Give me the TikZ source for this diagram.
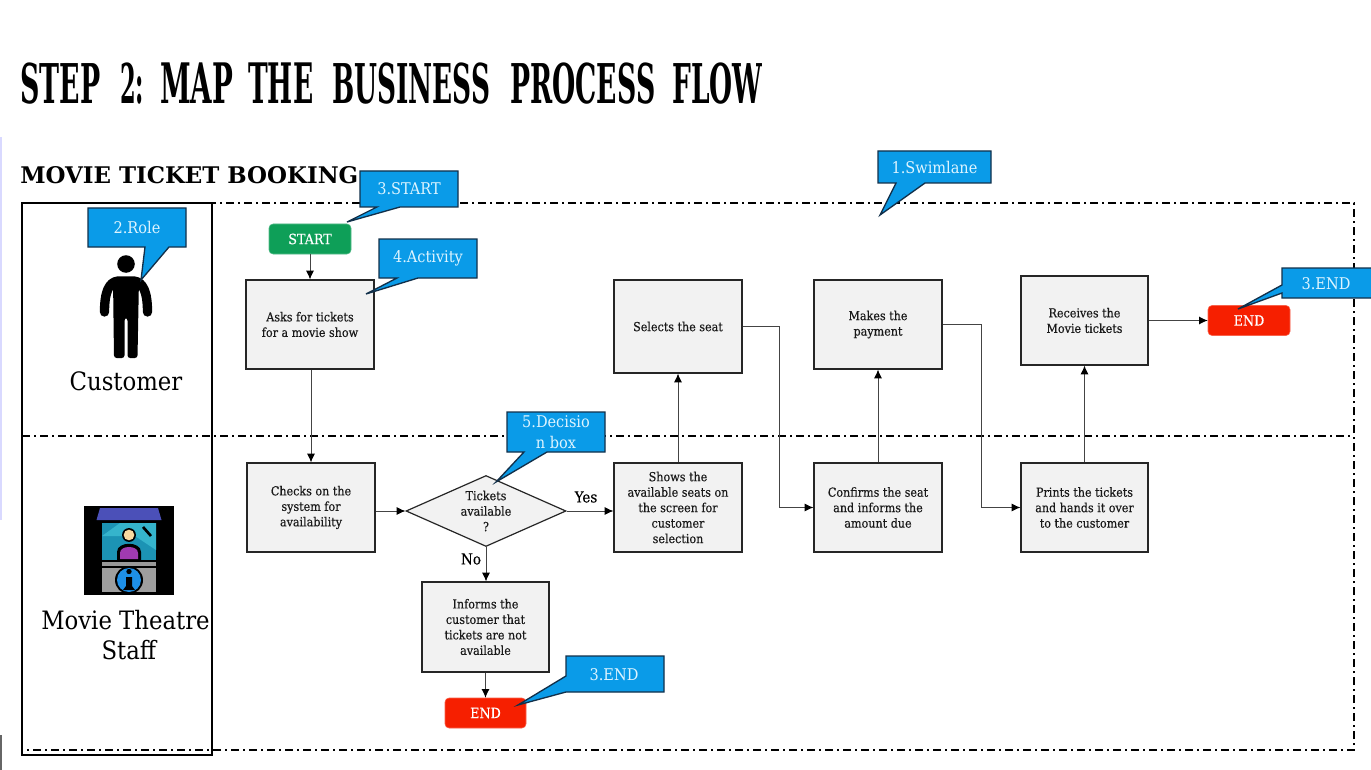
\documentclass[tikz,border=0pt]{standalone}
\usepackage{fontspec}
\setmainfont{DejaVu Serif Condensed}
\newfontfamily\titlefont{DejaVu Serif}
\newfontfamily\bodyfont{DejaVu Serif Condensed}[FakeBold=0.25]
\usetikzlibrary{shapes.geometric,arrows.meta,calc}
\definecolor{calloutblue}{HTML}{0A9BE8}
\definecolor{calloutedge}{HTML}{12304A}
\definecolor{calloutink}{HTML}{DDF4FF}
\definecolor{boxfill}{HTML}{F2F2F2}
\definecolor{startgreen}{HTML}{0E9F58}
\definecolor{endred}{HTML}{F61F00}
\definecolor{linegray}{HTML}{444444}
\definecolor{kioskroof}{HTML}{4B50B8}
\definecolor{kioskglass}{HTML}{1C93B4}
\definecolor{kioskglasslight}{HTML}{35B4CC}
\definecolor{kioskskin}{HTML}{F8D9A0}
\definecolor{kioskshirt}{HTML}{A03AB0}
\definecolor{kioskinfo}{HTML}{1E8FE6}
\newcommand{\tw}[2]{\resizebox{#1pt}{30.5pt}{\titlefont\bfseries #2}}
\tikzset{
  x=0.75pt,y=-0.75pt,
  boxsize/.style 2 args={minimum width=#1*0.75pt,minimum height=#2*0.75pt},
  stepbox/.style={draw=black!85,line width=0.9pt,fill=boxfill,inner sep=0pt,align=center,
    font=\bodyfont\fontsize{9.3}{11.6}\selectfont,text=black!90},
  decbox/.style={diamond,shape aspect=2.25,draw=black!85,line width=0.9pt,fill=boxfill,inner sep=0pt,align=center,
    font=\bodyfont\fontsize{9.3}{11.6}\selectfont,text=black!90},
  termstart/.style={rounded corners=3pt,fill=startgreen,draw=startgreen!70!white,line width=0.4pt,inner sep=0pt,text=white,
    font=\bodyfont\fontsize{10.6}{12}\selectfont},
  termend/.style={termstart,fill=endred,draw=endred!70!white},
  flow/.style={draw=linegray,line width=0.7pt,-{Latex[black,length=6.5pt,width=6pt]}},
  lane/.style={draw=black,line width=0.8pt,dash pattern=on 6pt off 3pt on 1.5pt off 3pt},
  calloutshape/.style={draw=calloutedge,fill=calloutblue,line width=1pt,line join=miter},
  callouttext/.style={text=calloutink,inner sep=0pt,align=center,font=\fontsize{12.1}{15.5}\selectfont},
  rolelabel/.style={inner sep=0pt,align=center,text=black,font=\fontsize{19}{22.5}\selectfont},
  branchlabel/.style={inner sep=0pt,text=black,font=\bodyfont\fontsize{11.3}{12}\selectfont},
}
\begin{document}
\begin{tikzpicture}
\useasboundingbox (0,0) rectangle (1371,770);
\fill[white] (0,0) rectangle (1371,770);
\fill[blue!15!white] (0,137) rectangle (2,520);
\fill[black!60] (0,735) rectangle (1.5,770);

% title
\node[anchor=base west,inner sep=0pt] (title) at (20,104)
  {\tw{60}{STEP}\hspace{15pt}\tw{18}{2:}\hspace{12pt}\tw{54.75}{MAP}\hspace{11.25pt}\tw{48.75}{THE}\hspace{14.25pt}\tw{118.5}{BUSINESS}\hspace{15pt}\tw{108.75}{PROCESS}\hspace{12.75pt}\tw{67.5}{FLOW}};
\node[anchor=base west,inner sep=0pt] (subtitle) at (20,183)
  {\resizebox{253.5pt}{!}{\titlefont\bfseries MOVIE TICKET BOOKING}};

% swimlanes
\draw[lane] (22,203) rectangle (1354,750);
\draw[lane] (22,436) -- (1354,436);
\draw[draw=black,line width=1pt] (22,203) rectangle (212,755);

% role: customer
\fill[black] (126,264) circle (6.6pt);
\draw[black,line width=7pt,line cap=round,line join=round] (104.5,312) .. controls (104.5,292) and (109,282) .. (118,281) -- (134,281) .. controls (143,282) and (147.5,292) .. (147.5,312);
\fill[black,rounded corners=2pt] (113,278) -- (139,278) -- (137.5,358) -- (127.5,358) -- (127.5,318) -- (124.5,318) -- (124.5,358) -- (114,358) -- cycle;
\node[rolelabel] (customer) at (126,381.5) {Customer};

% role: staff icon
\fill[black] (84,506) rectangle (174,595);
\fill[kioskroof] (100,508) -- (158,508) -- (161.5,520) -- (96.5,520) -- cycle;
\fill[kioskglass] (102,523) rectangle (156,560);
\fill[kioskglasslight] (102,536) -- (120,523) -- (156,523) -- (156,550) -- (135,536) -- cycle;
\draw[black,line width=2pt] (143,527) -- (151,536);
\fill[black] (129,535) circle (5.2pt);
\fill[kioskskin] (129,535) circle (4pt);
\fill[black] (117,560) -- (117,552) .. controls (117,541) and (141,541) .. (141,552) -- (141,560) -- cycle;
\fill[kioskshirt] (120,559) -- (120,553) .. controls (120,545) and (138,545) .. (138,553) -- (138,559) -- cycle;
\fill[black!40] (102,562) rectangle (156,566);
\fill[black!38] (102,568) rectangle (156,592);
\fill[black] (129,580) circle (10.5pt);
\fill[kioskinfo] (129,580) circle (9pt);
\fill[black] (129,571.5) circle (2pt);
\fill[black] (126,577) -- (132,577) -- (132,586) -- (135,590) -- (123,590) -- (126,586) -- cycle;
\node[rolelabel] (staff) at (125.5,635) {Movie Theatre\\\hspace*{5pt}Staff};

% process nodes
\node[termstart,boxsize={82}{30}] (start) at (310,239) {START};
\node[stepbox,boxsize={128}{89}] (asks) at (310,324.5) {Asks for tickets\\for a movie show};
\node[stepbox,boxsize={128}{89}] (checks) at (311,507.5) {Checks on the\\system for\\availability};
\node[decbox,boxsize={160}{71}] (decision) at (486,511) {Tickets\\available\\?};
\node[stepbox,boxsize={127}{90}] (informs) at (485.5,627) {Informs the\\customer that\\tickets are not\\available};
\node[termend,boxsize={81}{30}] (endb) at (485.5,713) {END};
\node[stepbox,boxsize={128}{89}] (shows) at (678,507.5) {Shows the\\available seats on\\the screen for\\customer\\selection};
\node[stepbox,boxsize={128}{93}] (selects) at (678,326.5) {Selects the seat};
\node[stepbox,boxsize={128}{89}] (confirms) at (878,507.5) {Confirms the seat\\and informs the\\amount due};
\node[stepbox,boxsize={128}{89}] (makes) at (878,324.5) {Makes the\\payment};
\node[stepbox,boxsize={127}{89}] (prints) at (1084.5,507.5) {Prints the tickets\\and hands it over\\to the customer};
\node[stepbox,boxsize={127}{89}] (receives) at (1084.5,320.5) {Receives the\\Movie tickets};
\node[termend,boxsize={82}{30}] (endt) at (1249,320.5) {END};

% connectors
\draw[flow] (start) -- (asks);
\draw[flow] (asks.south -| checks.north) -- (checks.north);
\draw[flow] (checks.east |- decision.west) -- (decision.west);
\draw[flow] (decision.east) -- (decision.east -| shows.west);
\draw[flow] (decision.south) -- (decision.south |- informs.north);
\draw[flow] (informs) -- (endb);
\draw[flow] (shows) -- (selects);
\draw[flow] (selects.east) -- ++(37,0) |- (confirms.west);
\draw[flow] (confirms) -- (makes);
\draw[flow] (makes.east) -- ++(39,0) |- (prints.west);
\draw[flow] (prints) -- (receives);
\draw[flow] (receives) -- (endt);
\node[branchlabel] (yes) at (586,497) {Yes};
\node[branchlabel] (no) at (471,559) {No};

% callouts
\draw[calloutshape] (878,151) -- (991,151) -- (991,183) -- (925,183) -- (880,215) -- (896,183) -- (878,183) -- cycle;
\node[callouttext] (c1) at (934.5,167) {1.Swimlane};
\draw[calloutshape] (88,208) -- (186,208) -- (186,247) -- (169,247) -- (141,280) -- (145,247) -- (88,247) -- cycle;
\node[callouttext] (c2) at (137,227) {2.Role};
\draw[calloutshape] (360,171) -- (458,171) -- (458,207) -- (400,207) -- (347,222) -- (377,207) -- (360,207) -- cycle;
\node[callouttext] (c3) at (409,189) {3.START};
\draw[calloutshape] (379,239) -- (477,239) -- (477,278) -- (418,278) -- (366,294) -- (397,278) -- (379,278) -- cycle;
\node[callouttext] (c4) at (428,258.5) {4.Activity};
\draw[calloutshape] (507,412) -- (605,412) -- (605,452) -- (547,452) -- (496,482) -- (524,452) -- (507,452) -- cycle;
\node[callouttext] (c5) at (556,432) {5.Decisio\\n box};
\draw[calloutshape] (566,656) -- (664,656) -- (664,692) -- (566,692) -- (518,705) -- (566,676) -- cycle;
\node[callouttext] (c6) at (614,675) {3.END};
\draw[calloutshape] (1282,268) -- (1372,268) -- (1372,298) -- (1282,298) -- (1282,293) -- (1238,309) -- (1282,285) -- cycle;
\node[callouttext] (c7) at (1326,283.5) {3.END};
\end{tikzpicture}
\end{document}
